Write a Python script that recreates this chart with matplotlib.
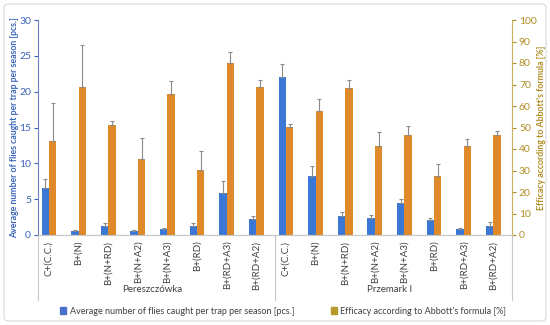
import matplotlib
matplotlib.use("Agg")
import matplotlib.pyplot as plt
from matplotlib.patches import FancyBboxPatch, Patch
from matplotlib.transforms import blended_transform_factory
import numpy as np

plt.rcParams['font.family'] = ['Lato', 'DejaVu Sans']

categories = ["C+(C.C.)", "B+(N)", "B+(N+RD)", "B+(N+A2)", "B+(N+A3)", "B+(RD)", "B+(RD+A3)", "B+(RD+A2)",
              "C+(C.C.)", "B+(N)", "B+(N+RD)", "B+(N+A2)", "B+(N+A3)", "B+(RD)", "B+(RD+A3)", "B+(RD+A2)"]
groups = ["Pereszczówka", "Przemark I"]

flies = [6.5, 0.5, 1.2, 0.5, 0.9, 1.2, 5.9, 2.3,
         22.1, 8.3, 2.7, 2.4, 4.5, 2.15, 0.85, 1.25]
flies_err = [1.3, 0.2, 0.45, 0.2, 0.1, 0.45, 1.6, 0.3,
             1.7, 1.3, 0.5, 0.35, 0.5, 0.25, 0.15, 0.55]

efficacy = [43.5, 68.8, 51.0, 35.5, 65.8, 30.3, 80.2, 68.8,
            50.3, 57.9, 68.2, 41.2, 46.4, 27.5, 41.2, 46.4]
efficacy_err = [18.0, 19.5, 2.2, 9.5, 5.8, 8.9, 4.8, 3.1,
                1.5, 5.4, 4.0, 6.8, 4.5, 5.6, 3.5, 1.8]

label_left = "Average number of flies caught per trap per season [pcs.]"
label_right = "Efficacy according to Abbott's formula [%]"

blue = "#3b78d6"
gold = "#de8a2a"
gold_legend = "#b89a2c"
left_col = "#3a64b8"
right_col = "#b08d22"

fig = plt.figure(figsize=(5.5, 3.25), dpi=100)
ax = fig.add_axes([38/550, 1-235/325, (512-38)/550, 215/325])
ax2 = ax.twinx()

x = np.arange(len(categories))
w = 0.25
ax.bar(x - w/2, flies, width=w, color=blue, zorder=2)
ax.errorbar(x - w/2, flies, yerr=[np.zeros(len(x)), flies_err], fmt='none',
            ecolor="#8a8a8a", elinewidth=0.8, capsize=1.5, capthick=0.8, zorder=3)
ax2.bar(x + w/2, efficacy, width=w, color=gold, zorder=2)
ax2.errorbar(x + w/2, efficacy, yerr=[np.zeros(len(x)), efficacy_err], fmt='none',
             ecolor="#8a8a8a", elinewidth=0.8, capsize=1.5, capthick=0.8, zorder=3)

ax.set_xlim(-0.37, 15.63)
ax.set_ylim(0, 30)
ax2.set_ylim(0, 100)
ax.set_yticks(range(0, 31, 5))
ax2.set_yticks(range(0, 101, 10))

ax.set_xticks(x)
ax.set_xticklabels(categories, rotation=90, fontsize=7, color="#404040")
ax.tick_params(axis='x', length=0, pad=4)
ax.tick_params(axis='y', labelsize=7.5, colors=left_col, length=3, width=0.8, pad=2)
ax2.tick_params(axis='y', labelsize=7.5, colors=right_col, length=3, width=0.8, pad=2)

for a in (ax, ax2):
    a.spines['top'].set_visible(False)
    a.spines['bottom'].set_color("#c8c8c8")
ax.spines['right'].set_visible(False)
ax2.spines['left'].set_visible(False)
ax.spines['left'].set_color("#6e7fc0")
ax2.spines['right'].set_color("#c9b160")

ax.set_ylabel(label_left, fontsize=6.3, color=left_col, fontweight='bold', labelpad=0)
ax2.set_ylabel(label_right, fontsize=6.3, color=right_col, fontweight='bold', labelpad=0)

trans = blended_transform_factory(ax.transData, ax.transAxes)
for xd in (-0.37, 7.63, 15.63):
    ax.plot([xd, xd], [0, -0.30], transform=trans, color="#c8c8c8", lw=0.8, clip_on=False)
ax.text(3.5, -0.255, groups[0], transform=trans, ha='center', va='center', fontsize=7, color="#404040")
ax.text(11.5, -0.255, groups[1], transform=trans, ha='center', va='center', fontsize=7, color="#404040")

handles = [Patch(color="#4a6fc8", label=label_left), Patch(color=gold_legend, label=label_right)]
fig.legend(handles=handles, loc='center', bbox_to_anchor=(0.515, 1-311/325), ncol=2, frameon=False,
           fontsize=6.5, handlelength=0.7, handleheight=0.7, handletextpad=0.4, columnspacing=4.0,
           labelcolor="#404040")

frame = FancyBboxPatch((4/550, 4/325), 542/550, 317/325, boxstyle="round,pad=0,rounding_size=0.01",
                       transform=fig.transFigure, fill=False, edgecolor="#d9d9d9", lw=0.8)
fig.patches.append(frame)

fig.savefig("out.png", dpi=100)
